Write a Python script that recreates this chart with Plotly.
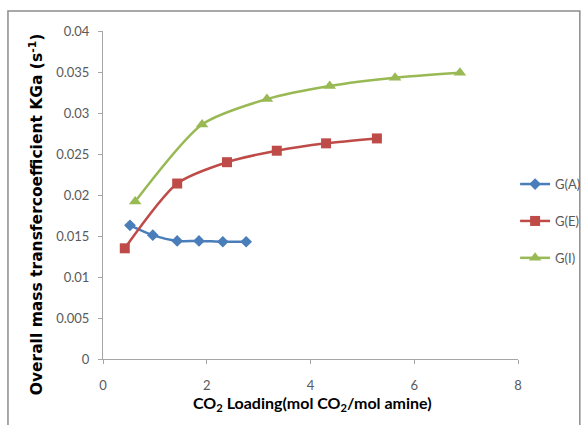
import plotly.graph_objects as go

# CO2 loading (mol CO2 / mol amine) and KGa (1/s) for each gas condition
load_a = [0.52, 0.96, 1.43, 1.85, 2.31, 2.76]
kga_a = [0.0163, 0.0151, 0.0144, 0.0144, 0.0143, 0.0143]

load_e = [0.42, 1.43, 2.39, 3.35, 4.30, 5.28]
kga_e = [0.0135, 0.0214, 0.0240, 0.0254, 0.0263, 0.0269]

load_i = [0.62, 1.91, 3.16, 4.37, 5.63, 6.88]
kga_i = [0.0192, 0.0286, 0.0317, 0.0333, 0.0343, 0.0349]

series = [
    ("G(A)", load_a, kga_a, "#4A7EBB", "diamond", 9),
    ("G(E)", load_e, kga_e, "#BE4B48", "square", 10),
    ("G(I)", load_i, kga_i, "#98B954", "triangle-up", 11),
]

fig = go.Figure()
for name, x, y, color, symbol, size in series:
    fig.add_trace(go.Scatter(
        x=x, y=y, name=name, legendgroup=name,
        mode="lines+markers",
        line=dict(color=color, width=2.5, shape="spline", smoothing=0.7),
        marker=dict(symbol=symbol, size=size, color=color),
    ))

tick_font = dict(family="Lato, Liberation Sans, sans-serif", size=13, color="#595959")

fig.update_layout(
    width=584, height=425,
    margin=dict(l=103, r=66, t=31, b=66, autoexpand=False),
    paper_bgcolor="white", plot_bgcolor="white",
    showlegend=True,
    legend=dict(
        x=0.993, y=0.579, xanchor="left", yanchor="top",
        font=dict(family="Lato, Liberation Sans, sans-serif", size=13, color="#595959"),
        tracegroupgap=17, itemwidth=30,
        bgcolor="rgba(0,0,0,0)",
    ),
    xaxis=dict(
        range=[0, 8], tickvals=[0, 2, 4, 6, 8], showgrid=False, zeroline=False,
        showline=True, linecolor="#A6A6A6", linewidth=1,
        ticks="outside", ticklen=4, tickcolor="#A6A6A6",
        tickfont=tick_font, ticklabelstandoff=10,
    ),
    yaxis=dict(
        range=[0, 0.04], tickvals=[0, 0.005, 0.01, 0.015, 0.02, 0.025, 0.03, 0.035, 0.04],
        ticktext=["0", "0.005", "0.01", "0.015", "0.02", "0.025", "0.03", "0.035", "0.04"],
        showgrid=False, zeroline=False,
        showline=True, linecolor="#A6A6A6", linewidth=1,
        ticks="outside", ticklen=4, tickcolor="#A6A6A6",
        tickfont=tick_font, ticklabelstandoff=6,
    ),
    annotations=[
        dict(
            text="CO<sub>2</sub> Loading(mol CO<sub>2</sub>/mol amine)",
            xref="paper", yref="paper", x=0.504, y=-0.137,
            xanchor="center", yanchor="middle", showarrow=False,
            font=dict(family="Lato, sans-serif", size=16, color="#000000", weight="bold"),
        ),
        dict(
            text="Overall mass transfercoefficient KGa (s<sup>-1</sup>)",
            xref="paper", yref="paper", x=-0.16, y=0.44, textangle=-90,
            xanchor="center", yanchor="middle", showarrow=False,
            font=dict(family="DejaVu Sans, sans-serif", size=15.5, color="#000000", weight="bold"),
        ),
    ],
    shapes=[dict(
        type="rect", xref="paper", yref="paper",
        x0=-0.229, x1=1.149, y0=-0.25, y1=1.061,
        line=dict(color="#8C8C8C", width=1.5), layer="above",
    )],
)

fig.write_html("out.html")
